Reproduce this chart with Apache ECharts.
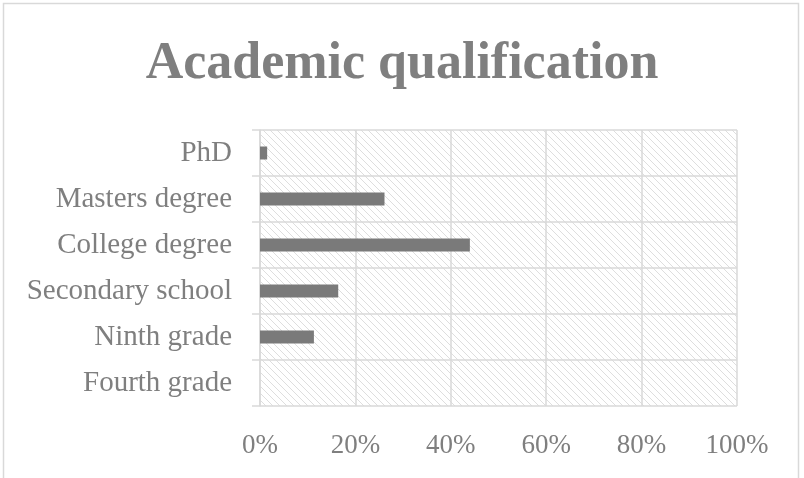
<!DOCTYPE html>
<html>
<head>
<meta charset="utf-8">
<script src="https://cdn.jsdelivr.net/npm/echarts@6/dist/echarts.min.js"></script>
<style>
html,body{margin:0;padding:0;background:#fff;}
#chart{width:804px;height:478px;}
</style>
</head>
<body>
<div id="chart"></div>
<script>
// Data (bottom to top order for ECharts category axis)
const categories = ['Fourth grade', 'Ninth grade', 'Secondary school', 'College degree', 'Masters degree', 'PhD'];
const shares = [0.0, 0.113, 0.164, 0.44, 0.261, 0.015];
const xTicks = [0, 0.2, 0.4, 0.6, 0.8, 1.0];
const chartTitle = 'Academic qualification';

// diagonal hatch pattern for plot background
const p = document.createElement('canvas');
const s = 7;
p.width = s; p.height = s;
const ctx = p.getContext('2d');
ctx.fillStyle = '#ffffff';
ctx.fillRect(0, 0, s, s);
ctx.strokeStyle = '#dedede';
ctx.lineWidth = 1;
for (let i = -s; i <= s; i += s) {
  ctx.beginPath();
  ctx.moveTo(i, 0);
  ctx.lineTo(i + s, s);
  ctx.stroke();
}

const chart = echarts.init(document.getElementById('chart'), null, {renderer: 'canvas'});
const serif = '"Liberation Serif", "Times New Roman", serif';
chart.setOption({
  animation: false,
  backgroundColor: '#ffffff',
  title: {
    text: chartTitle,
    left: 'center',
    top: 34,
    textStyle: {fontFamily: serif, fontWeight: 'bold', fontSize: 52, color: '#7f7f7f'}
  },
  graphic: [{
    type: 'rect',
    shape: {x: 3.5, y: 3.5, width: 795, height: 520},
    style: {fill: 'none', stroke: '#d9d9d9', lineWidth: 1.5},
    silent: true
  }],
  grid: {
    left: 260, right: 67, top: 130, bottom: 72,
    show: true,
    borderWidth: 0,
    backgroundColor: {image: p, repeat: 'repeat'}
  },
  xAxis: {
    type: 'value',
    min: 0, max: 1, interval: 0.2,
    axisLine: {show: false},
    axisTick: {show: false},
    splitLine: {show: true, lineStyle: {color: '#d9d9d9', width: 1.5}},
    axisLabel: {
      margin: 26,
      fontFamily: serif, fontSize: 27, color: '#7f7f7f',
      formatter: v => Math.round(v * 100) + '%'
    }
  },
  yAxis: {
    type: 'category',
    data: categories,
    axisLine: {show: true, lineStyle: {color: '#d9d9d9', width: 1.5}},
    axisTick: {show: true, length: 8, lineStyle: {color: '#d9d9d9', width: 1.5}},
    splitLine: {show: true, lineStyle: {color: '#d9d9d9', width: 1.5}},
    axisLabel: {margin: 28, fontFamily: serif, fontSize: 29, color: '#7f7f7f'}
  },
  series: [{
    type: 'bar',
    data: shares,
    barWidth: 13,
    itemStyle: {color: '#7a7a7a'}
  }]
});
</script>
</body>
</html>
